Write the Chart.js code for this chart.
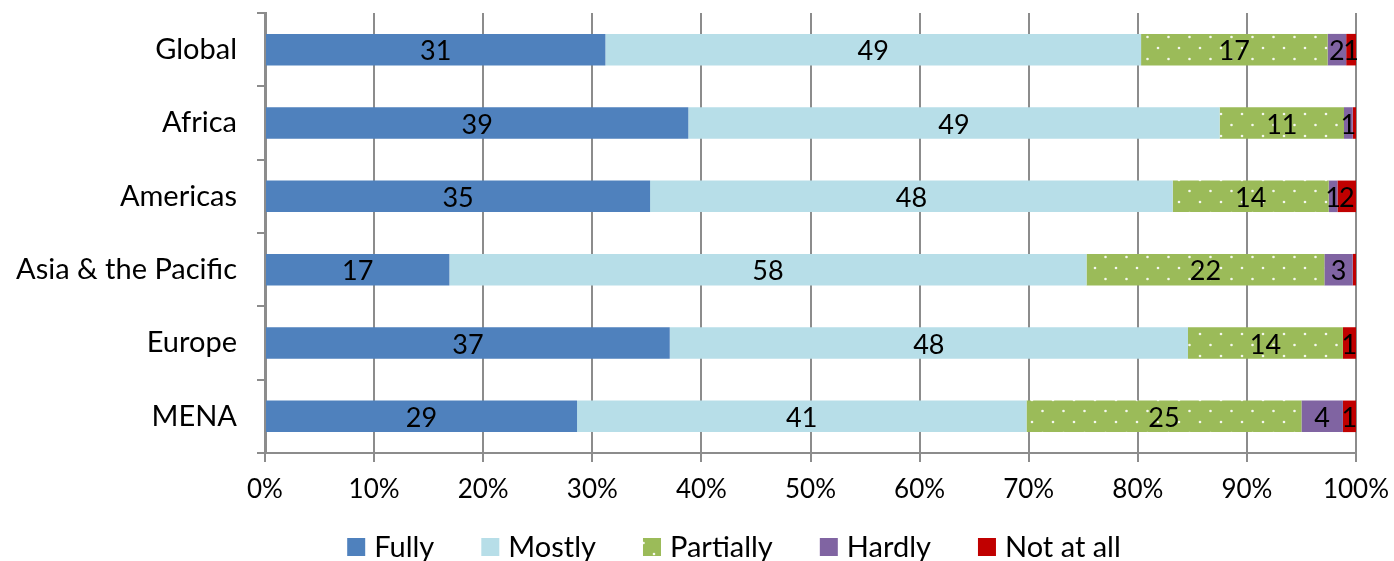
<!DOCTYPE html>
<html>
<head>
<meta charset="utf-8">
<script src="https://cdn.jsdelivr.net/npm/chart.js@4"></script>
<style>
  body { margin: 0; background: #fff; }
  canvas { display: block; }
</style>
</head>
<body>
<canvas id="chart" width="1394" height="561"></canvas>
<script>
const regions = ['Global', 'Africa', 'Americas', 'Asia & the Pacific', 'Europe', 'MENA'];
const fully     = [31.2, 38.8, 35.3, 16.9, 37.1, 28.6];
const mostly    = [49.1, 48.7, 47.9, 58.4, 47.5, 41.2];
const partially = [17.1, 11.4, 14.3, 21.8, 14.2, 25.2];
const hardly    = [1.7, 0.8, 0.8, 2.6, 0.0, 3.8];
const notAtAll  = [0.9, 0.3, 1.7, 0.3, 1.2, 1.2];
const xTicks = [0, 10, 20, 30, 40, 50, 60, 70, 80, 90, 100];

const FONT = 'Lato, "Open Sans", sans-serif';

// green with little white dots, like the Excel pattern fill
function dotPattern() {
  const c = document.createElement('canvas');
  c.width = 21; c.height = 22;
  const g = c.getContext('2d');
  g.fillStyle = '#9BBB59';
  g.fillRect(0, 0, 21, 22);
  g.fillStyle = 'rgba(255,255,255,0.9)';
  g.beginPath(); g.arc(3, 4, 1.3, 0, Math.PI * 2); g.fill();
  g.beginPath(); g.arc(13.5, 15, 1.3, 0, Math.PI * 2); g.fill();
  return g.createPattern(c, 'repeat');
}

// draw the rounded value in the middle of each segment
const segmentLabels = {
  id: 'segmentLabels',
  afterDatasetsDraw(chart) {
    const ctx = chart.ctx;
    ctx.save();
    ctx.font = '27px ' + FONT;
    ctx.fillStyle = '#000';
    ctx.textAlign = 'center';
    ctx.textBaseline = 'middle';
    chart.data.datasets.forEach((ds, i) => {
      chart.getDatasetMeta(i).data.forEach((bar, j) => {
        const v = Math.round(ds.data[j]);
        if (!v) return;
        const x = (bar.x + bar.base) / 2;
        ctx.fillText(String(v), x, bar.y + 2);
      });
    });
    ctx.restore();
  }
};

// legend row under the axis, Excel style (small square, tight gaps)
const bottomLegend = {
  id: 'bottomLegend',
  afterDraw(chart) {
    const ctx = chart.ctx;
    const box = 18, gap = 9, itemGap = 47, centerX = 734, y = 547;
    ctx.save();
    ctx.font = '29px ' + FONT;
    ctx.textBaseline = 'middle';
    const sets = chart.data.datasets;
    const widths = sets.map(ds => box + gap + ctx.measureText(ds.label).width);
    const total = widths.reduce((a, b) => a + b, 0) + itemGap * (sets.length - 1);
    let x = centerX - total / 2;
    sets.forEach((ds, i) => {
      ctx.fillStyle = ds.backgroundColor;
      ctx.fillRect(x, y - box / 2, box, box);
      ctx.fillStyle = '#000';
      ctx.fillText(ds.label, x + box + gap, y + 1);
      x += widths[i] + itemGap;
    });
    ctx.restore();
  }
};

const ctx = document.getElementById('chart').getContext('2d');
new Chart(ctx, {
  type: 'bar',
  data: {
    labels: regions,
    datasets: [
      { label: 'Fully', data: fully, backgroundColor: '#4F81BD' },
      { label: 'Mostly', data: mostly, backgroundColor: '#B7DEE8' },
      { label: 'Partially', data: partially, backgroundColor: dotPattern() },
      { label: 'Hardly', data: hardly, backgroundColor: '#8064A2' },
      { label: 'Not at all', data: notAtAll, backgroundColor: '#C00000' }
    ]
  },
  options: {
    indexAxis: 'y',
    responsive: false,
    animation: false,
    devicePixelRatio: 1,
    layout: { padding: { top: 13, right: 38, left: 0, bottom: 0 } },
    datasets: { bar: { categoryPercentage: 1, barPercentage: 0.43 } },
    scales: {
      x: {
        stacked: true,
        min: 0,
        max: 100,
        afterBuildTicks: s => { s.ticks = xTicks.map(v => ({ value: v })); },
        afterFit: s => { s.height = 108; s.paddingLeft = 0; s.paddingRight = 0; },
        ticks: {
          callback: v => v + '%',
          color: '#000',
          font: { size: 26, family: FONT },
          padding: 12,
          maxRotation: 0
        },
        grid: { color: '#8c8c8c', lineWidth: 2, tickLength: 9 },
        border: { color: '#8c8c8c', width: 2 }
      },
      y: {
        stacked: true,
        afterFit: s => { s.width = 265; s.paddingTop = 0; s.paddingBottom = 0; },
        ticks: {
          color: '#000',
          font: { size: 29, family: FONT },
          padding: 20
        },
        grid: { drawOnChartArea: false, color: '#8c8c8c', lineWidth: 2, tickLength: 8, offset: true },
        border: { color: '#8c8c8c', width: 3 }
      }
    },
    plugins: {
      legend: { display: false },
      tooltip: { enabled: false }
    }
  },
  plugins: [segmentLabels, bottomLegend]
});
</script>
</body>
</html>
